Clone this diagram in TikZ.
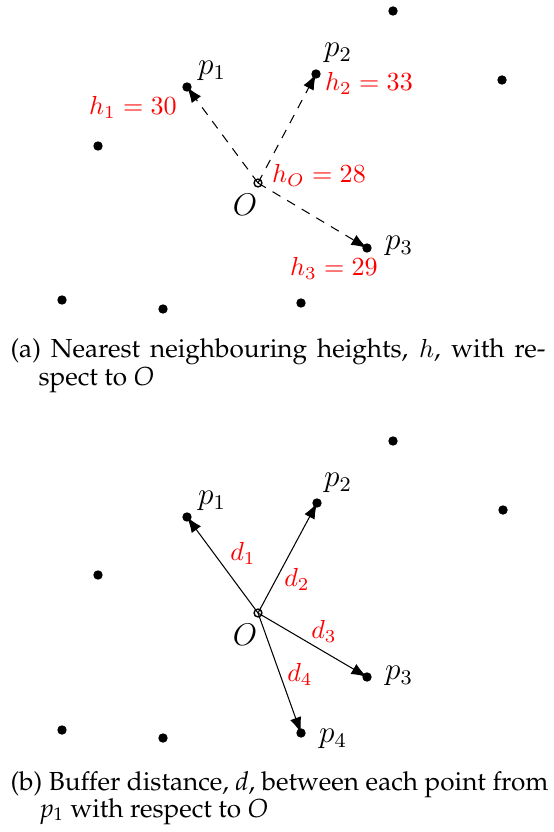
\documentclass[tikz,border=0pt]{standalone}
\usetikzlibrary{arrows.meta}
\newcommand\palfont{\fontencoding{OT1}\fontfamily{ppl}\selectfont}
\tikzset{
  dot/.style={circle,fill=black,inner sep=0pt,minimum size=3.6pt},
  orig/.style={circle,draw=black,line width=0.55pt,inner sep=0pt,minimum size=3pt},
  lab/.style={inner sep=0pt,font=\large},
  redlab/.style={inner sep=0pt,text=red},
  arr/.style={-{Latex[length=6pt,width=4.4pt]},line width=0.4pt},
  darr/.style={arr,dash pattern=on 3.5pt off 3pt},
  capline/.style={anchor=base west,inner sep=0pt,font=\palfont}
}
\begin{document}
\begin{tikzpicture}[x=0.383pt,y=-0.383pt]
\useasboundingbox (0,0) rectangle (553,832);
% ---------- panel (a)
\node[dot] (at) at (393,11) {};
\node[dot] (ap1) at (187,87) {};
\node[dot] (ap2) at (316,74) {};
\node[dot] (ar) at (502,80) {};
\node[dot] (al) at (98,146) {};
\node[orig] (aO) at (258,183) {};
\node[dot] (ap3) at (367,248) {};
\node[dot] (abl) at (62,300) {};
\node[dot] (abm) at (163,309) {};
\node[dot] (abr) at (301,303) {};
\draw[darr] (aO.center) -- (ap1.center);
\draw[darr] (aO.center) -- (ap2.center);
\draw[darr] (aO.center) -- (ap3.center);
\node[lab] (ap1l) at (212,71) {$p_1$};
\node[lab] (ap2l) at (338,53) {$p_2$};
\node[lab] (ap3l) at (399,246) {$p_3$};
\node[lab] (aOl) at (245,205) {$O$};
\node[redlab] (ah1) at (133,107) {$h_1=30$};
\node[redlab] (ah2) at (369,83) {$h_2=33$};
\node[redlab] (ahO) at (319,175) {$h_O=28$};
\node[redlab] (ah3) at (334,268) {$h_3=29$};
\node[capline] (capa1) at (10,357) {\makebox[204.9pt][s]{(a) Nearest neighbouring heights, $h$, with re-}};
\node[capline] (capa2) at (38,385) {spect to \textit{O}};
% ---------- panel (b)
\node[dot] (bt) at (393,441) {};
\node[dot] (bp1) at (187,517) {};
\node[dot] (bp2) at (317,503) {};
\node[dot] (br) at (503,510) {};
\node[dot] (bl) at (98,575) {};
\node[orig] (bO) at (258,613) {};
\node[dot] (bp3) at (367,677) {};
\node[dot] (bbl) at (62,730) {};
\node[dot] (bbm) at (163,738) {};
\node[dot] (bp4) at (301,733) {};
\draw[arr] (bO.center) -- (bp1.center);
\draw[arr] (bO.center) -- (bp2.center);
\draw[arr] (bO.center) -- (bp3.center);
\draw[arr] (bO.center) -- (bp4.center);
\node[lab] (bp1l) at (212,501) {$p_1$};
\node[lab] (bp2l) at (338,483) {$p_2$};
\node[lab] (bp3l) at (399,676) {$p_3$};
\node[lab] (bp4l) at (333,739) {$p_4$};
\node[lab] (bOl) at (245,635) {$O$};
\node[redlab] (bd1) at (243,553) {$d_1$};
\node[redlab] (bd2) at (297,579) {$d_2$};
\node[redlab] (bd3) at (324,631) {$d_3$};
\node[redlab] (bd4) at (300,674) {$d_4$};
\node[capline] (capb1) at (10,790) {\makebox[206pt][s]{(b) Buffer distance, \textit{d}, between each point from}};
\node[capline] (capb2) at (40,817) {{\itshape p}\textsubscript{1} with respect to \textit{O}};
\end{tikzpicture}
\end{document}
